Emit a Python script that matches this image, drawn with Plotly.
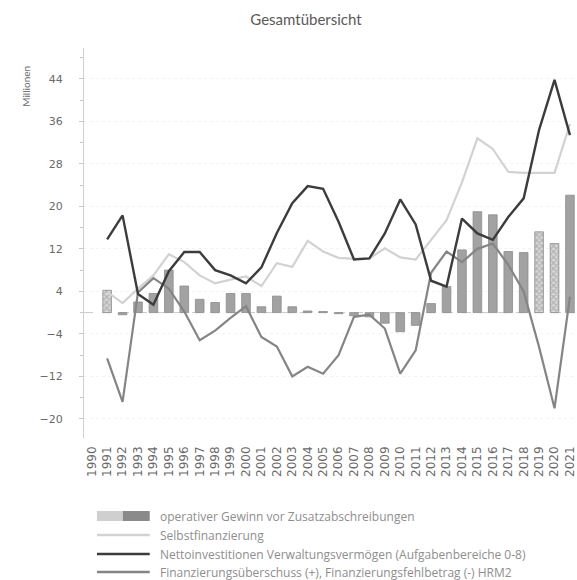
import plotly.graph_objects as go

years = [str(y) for y in range(1990, 2022)]

# operativer Gewinn vor Zusatzabschreibungen (bars)
gewinn = [None, 4.2, -0.4, 2.0, 3.6, 8.0, 5.0, 2.5, 1.9, 3.6, 3.6,
          1.1, 3.1, 1.1, 0.3, 0.2, -0.2, -0.6, -0.8, -2.0, -3.6,
          -2.4, 1.7, 4.9, 11.8, 19.0, 18.4, 11.5, 11.3, 15.2, 13.0, 22.1]
# hatched (estimated) years
hatched = ["1991", "2019", "2020"]

# Selbstfinanzierung
selbst = [None, 3.9, 1.8, 4.5, 7.0, 11.0, 9.5, 7.0, 5.5, 6.2, 6.8,
          5.0, 9.3, 8.6, 13.5, 11.5, 10.3, 10.1, 10.2, 12.1, 10.4,
          10.0, 13.6, 17.4, 24.5, 32.8, 30.8, 26.5, 26.3, 26.3, 26.3, 35.5]

# Nettoinvestitionen Verwaltungsvermögen
netto = [None, 13.8, 18.3, 3.5, 1.5, 7.8, 11.4, 11.4, 8.0, 7.0, 5.5,
         8.5, 15.0, 20.6, 23.8, 23.3, 17.1, 10.0, 10.2, 14.9, 21.3,
         16.6, 6.0, 4.9, 17.7, 14.9, 13.7, 18.0, 21.5, 34.4, 43.8, 33.4]

# Finanzierungsüberschuss / -fehlbetrag
finanz = [None, -8.6, -16.8, 3.8, 6.5, 4.5, 0.2, -5.2, -3.4, -1.0, 1.2,
          -4.6, -6.4, -12.0, -10.2, -11.5, -8.0, -0.8, -0.4, -3.0, -11.5,
          -7.1, 7.5, 11.5, 9.5, 12.0, 13.0, 9.0, 4.0, -6.5, -18.0, 3.0]

y_ticks = [-20, -12, -4, 4, 12, 20, 28, 36, 44]

legend_labels = [
    "operativer Gewinn vor Zusatzabschreibungen",
    "Selbstfinanzierung",
    "Nettoinvestitionen Verwaltungsvermögen (Aufgabenbereiche 0-8)",
    "Finanzierungsüberschuss (+), Finanzierungsfehlbetrag (-) HRM2",
]

C_BAR = "#a2a2a2"
C_LIGHT = "#d2d2d2"
C_DARK = "#3c3c3c"
C_MED = "#858585"
TXT = "#6a6a6a"
FONT = "Lato"
TICKFONT = "DejaVu Sans"

W, H = 577, 580
ML, MR, MT, MB = 84, 0, 48, 142
PW = W - ML - MR
PH = H - MT - MB


def px2x(px):
    return (px - ML) / PW


def px2y(py):
    return 1 - (py - MT) / PH


fig = go.Figure()

shapes_pat = ["x" if y in hatched else "" for y in years]
fig.add_trace(go.Bar(
    x=years, y=gewinn, name=legend_labels[0], width=0.56,
    marker=dict(color=C_BAR, line=dict(color="#8c8c8c", width=0.8),
                pattern=dict(shape=shapes_pat, size=4, solidity=0.5,
                             fgcolor="#8a8a8a", bgcolor="#d8d8d8")),
    showlegend=False,
))
fig.add_trace(go.Scatter(x=years, y=selbst, mode="lines", name=legend_labels[1],
                         line=dict(color=C_LIGHT, width=2.2), showlegend=False))
fig.add_trace(go.Scatter(x=years, y=finanz, mode="lines", name=legend_labels[3],
                         line=dict(color=C_MED, width=2.2), showlegend=False))
fig.add_trace(go.Scatter(x=years, y=netto, mode="lines", name=legend_labels[2],
                         line=dict(color=C_DARK, width=2.4), showlegend=False))

shapes = [
    dict(type="line", xref="paper", yref="y", x0=0, x1=1, y0=0, y1=0,
         line=dict(color="#c8c8c8", width=1, dash="dash"), layer="below"),
]
annotations = [
    dict(text="Millionen", textangle=-90, xref="paper", yref="paper",
         x=px2x(18), y=px2y(64), showarrow=False,
         font=dict(family=FONT, size=10, color=TXT)),
]

# legend (bottom)
row_y = [516, 535, 554, 572]
sym_x0, sym_x1, txt_x = 97, 150, 158
shapes.append(dict(type="rect", xref="paper", yref="paper",
                   x0=px2x(sym_x0), x1=px2x(sym_x0 + 26), y0=px2y(row_y[0] + 5), y1=px2y(row_y[0] - 5),
                   fillcolor="#cfcfcf", line=dict(width=0)))
shapes.append(dict(type="rect", xref="paper", yref="paper",
                   x0=px2x(sym_x0 + 26), x1=px2x(sym_x1), y0=px2y(row_y[0] + 5), y1=px2y(row_y[0] - 5),
                   fillcolor="#8a8a8a", line=dict(width=0)))
for r, col, wd in [(1, C_LIGHT, 2.5), (2, C_DARK, 2.5), (3, C_MED, 2.5)]:
    shapes.append(dict(type="line", xref="paper", yref="paper",
                       x0=px2x(sym_x0), x1=px2x(sym_x1), y0=px2y(row_y[r]), y1=px2y(row_y[r]),
                       line=dict(color=col, width=wd)))
for r, lab in enumerate(legend_labels):
    annotations.append(dict(text=lab, xref="paper", yref="paper", x=px2x(txt_x), y=px2y(row_y[r]),
                            xanchor="left", yanchor="middle", showarrow=False,
                            font=dict(family="Open Sans", size=12, color="#8e8e8e")))

fig.update_layout(
    width=W, height=H, autosize=False,
    margin=dict(l=ML, r=MR, t=MT, b=MB, pad=0),
    paper_bgcolor="white", plot_bgcolor="white",
    font=dict(family=FONT, size=11, color=TXT),
    title=dict(text="Gesamtübersicht", x=306 / W, xanchor="center", xref="container",
               y=1 - 20 / H, yanchor="middle", yref="container",
               font=dict(family=FONT, size=15, color="#5a5a5a")),
    bargap=0.4,
    shapes=shapes, annotations=annotations,
    showlegend=False,
)
fig.update_xaxes(type="category", range=[-0.5, -0.5 + PW / 15.49],
                 tickmode="linear", tick0=0, dtick=1,
                 tickangle=-90, showgrid=False, showline=False, zeroline=False,
                 ticks="", ticklabelstandoff=5,
                 tickfont=dict(family=TICKFONT, size=12, color=TXT))
fig.update_yaxes(range=[-23.6, 49.8], tickvals=y_ticks, showgrid=True,
                 gridcolor="#f3f3f3", gridwidth=1, griddash="dot",
                 zeroline=False, showline=True, linecolor="#d0d0d0", linewidth=1,
                 ticks="outside", ticklen=4, tickcolor="#c8c8c8",
                 minor=dict(ticks="outside", ticklen=3, dtick=4, tick0=0, tickcolor="#c8c8c8", showgrid=False),
                 ticklabelstandoff=14,
                 tickfont=dict(family=TICKFONT, size=11, color=TXT))

fig.write_html("out.html", post_script="document.body.style.margin='0';",
               config={"displayModeBar": False})
